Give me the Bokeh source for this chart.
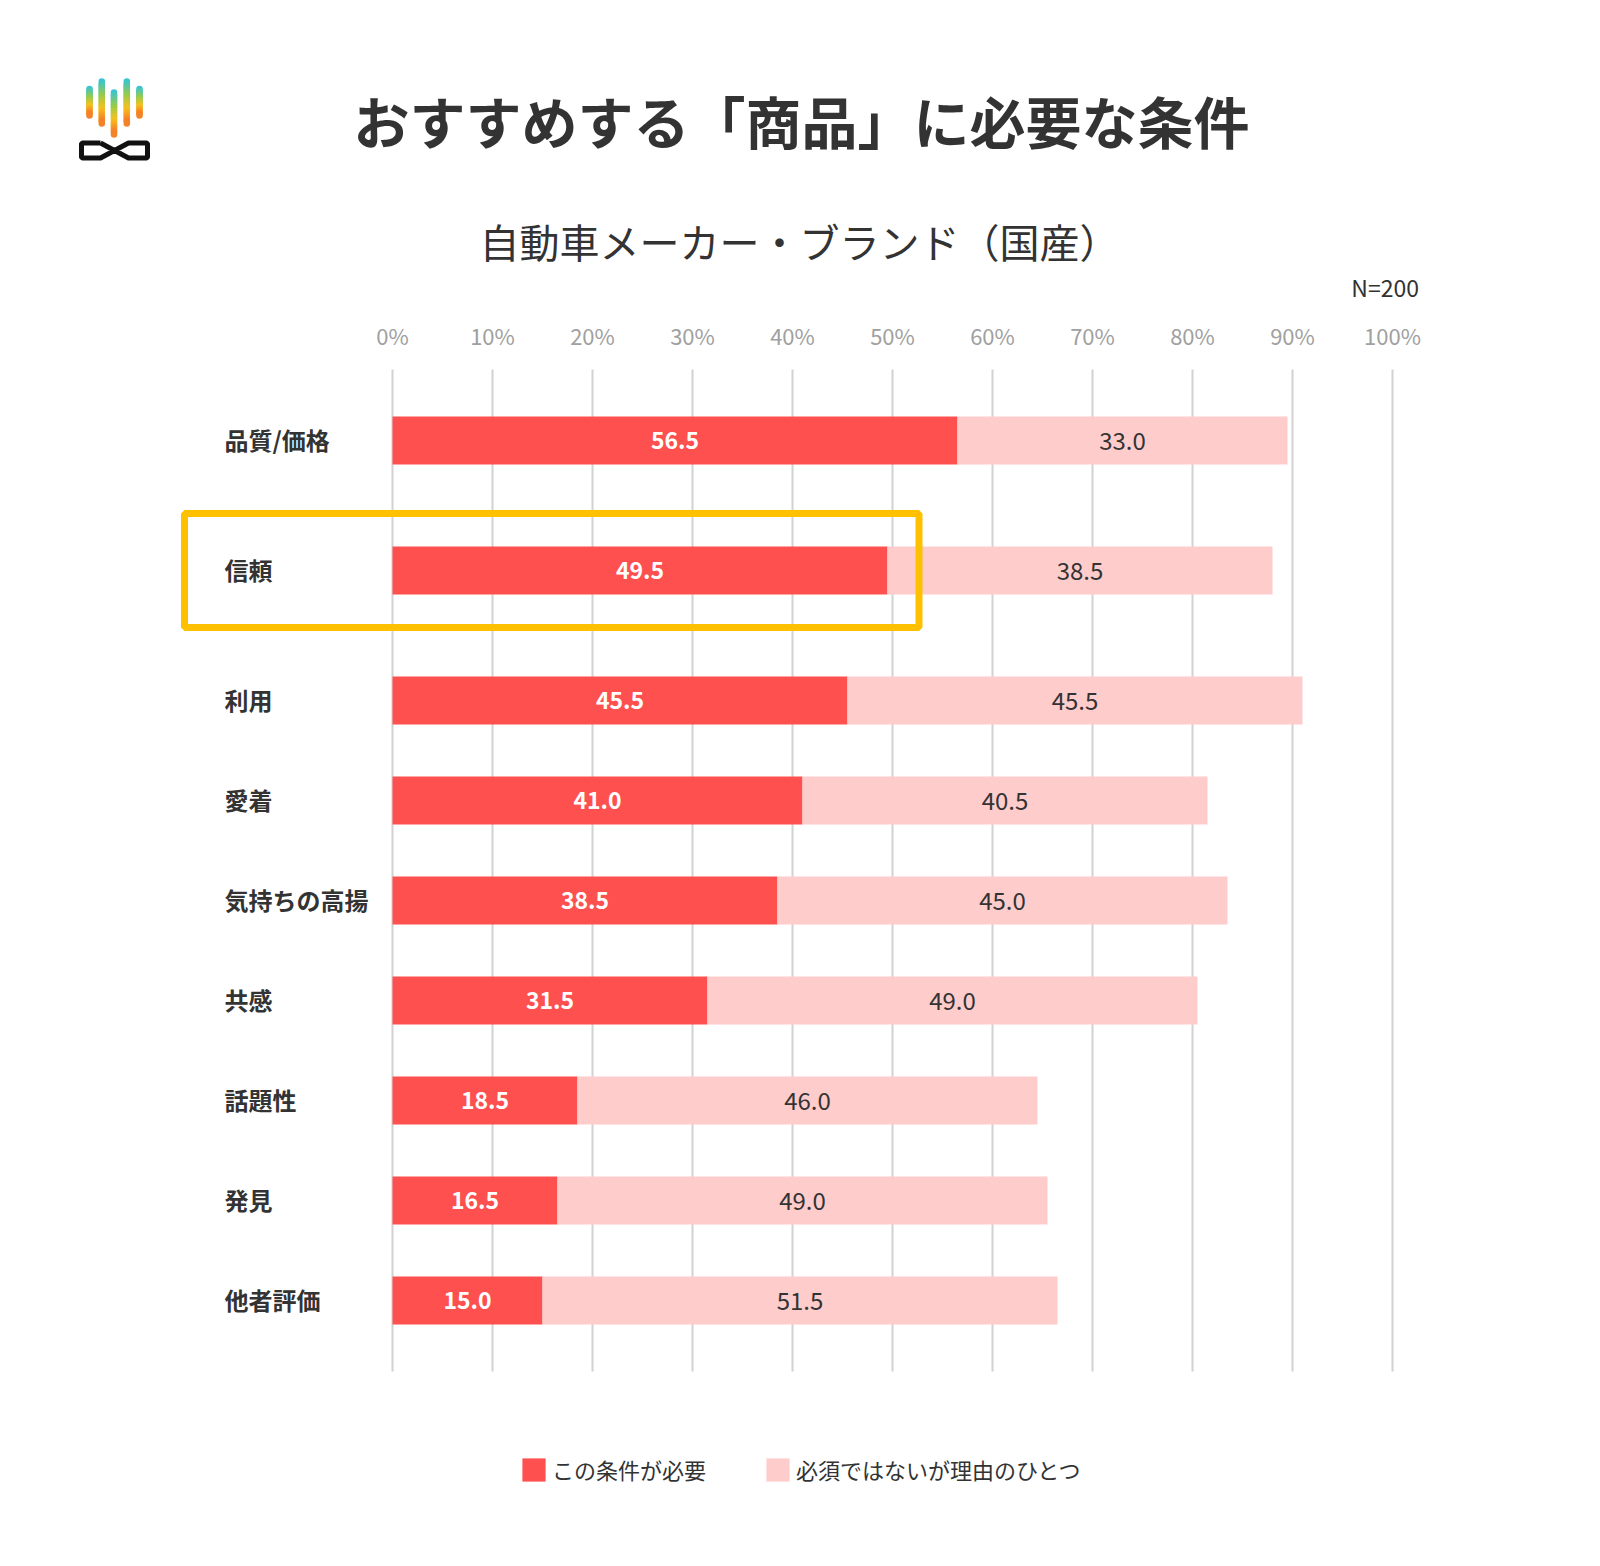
from bokeh.plotting import figure
from bokeh.models import Range1d, ColumnDataSource, Legend, LegendItem
from bokeh.core.properties import value
from bokeh.embed import file_html
from bokeh.resources import INLINE

# ---------------- data ----------------
categories = ["品質/価格", "信頼", "利用", "愛着", "気持ちの高揚", "共感", "話題性", "発見", "他者評価"]
required = [56.5, 49.5, 45.5, 41.0, 38.5, 31.5, 18.5, 16.5, 15.0]
one_reason = [33.0, 38.5, 45.5, 40.5, 45.0, 49.0, 46.0, 49.0, 51.5]
tick_values = [0, 10, 20, 30, 40, 50, 60, 70, 80, 90, 100]
tick_labels = [f"{t}%" for t in tick_values]
series_names = ["この条件が必要", "必須ではないが理由のひとつ"]
title_text = "おすすめする「商品」に必要な条件"
subtitle_text = "自動車メーカー・ブランド（国産）"
n_text = "N=200"
highlight = "信頼"

# ---------------- style ----------------
FONT_NAME = "Noto Sans CJK JP"
FONT = value(FONT_NAME)
RED = "#FF5050"
PINK = "#FFCCCC"
GRID = "#D2D2D2"
GOLD = "#FFC000"
DARK = "#333333"

W, H = 1584, 1550
# screen pixel -> data: x = (px-392)/10, y = (py-440)/100
X0, Y0 = 392.0, 440.0
def dx(px):
    return (px - X0) / 10.0
def dy(py):
    return (py - Y0) / 100.0

p = figure(width=W, height=H, output_backend="svg", toolbar_location=None,
           x_range=Range1d(dx(0), dx(W)), y_range=Range1d(dy(H), dy(0)),
           x_axis_type=None, y_axis_type=None, min_border=0)
p.xgrid.visible = False
p.ygrid.visible = False
p.outline_line_color = None
p.background_fill_color = "white"
p.border_fill_color = "white"

# row positions (extra gap around highlighted row)
hl = categories.index(highlight)
pos = [0.0]
for i in range(1, len(categories)):
    gap = 1.3 if (i == hl or i - 1 == hl) else 1.0
    pos.append(pos[-1] + gap)

# grid lines
g_top = pos[0] - 0.71
g_bot = pos[-1] + 0.71
p.segment(x0=tick_values, x1=tick_values, y0=[g_top] * len(tick_values), y1=[g_bot] * len(tick_values),
          line_color=GRID, line_width=2)
p.text(x=tick_values, y=[g_top - 0.347] * len(tick_values), text=tick_labels, text_font=FONT,
       text_font_size="22px", text_color="#A0A0A0", text_align="center", text_baseline="middle")

# bars
src = ColumnDataSource(dict(
    y=pos, cat=categories, req=required, rea=one_reason,
    tot=[a + b for a, b in zip(required, one_reason)],
    req_mid=[a / 2 for a in required],
    rea_mid=[a + b / 2 for a, b in zip(required, one_reason)],
    req_lab=[f"{a:.1f}" for a in required],
    rea_lab=[f"{b:.1f}" for b in one_reason],
    lab_y=[v - 0.01 for v in pos],
))
r1 = p.hbar(y="y", left=0, right="req", height=0.48, fill_color=RED, line_color=None, source=src)
r2 = p.hbar(y="y", left="req", right="tot", height=0.48, fill_color=PINK, line_color=None, source=src)
p.text(x="req_mid", y="y", text="req_lab", source=src, text_font=FONT, text_font_size="23px",
       text_font_style="bold", text_color="white", text_align="center", text_baseline="middle")
p.text(x="rea_mid", y="y", text="rea_lab", source=src, text_font=FONT, text_font_size="24px",
       text_color=DARK, text_align="center", text_baseline="middle")

# category labels
p.text(x=dx(224), y="lab_y", text="cat", source=src, text_font=FONT, text_font_size="24px",
       text_font_style="bold", text_color=DARK, text_align="left", text_baseline="middle")

# highlight box
p.quad(left=dx(184), right=dx(918.5), top=pos[hl] - 0.57, bottom=pos[hl] + 0.57,
       fill_color=None, line_color=GOLD, line_width=7)

# titles
p.text(x=[dx(801)], y=[dy(118.5)], text=[title_text], text_font=FONT, text_font_size="56px",
       text_font_style="bold", text_color=DARK, text_align="center", text_baseline="middle")
p.text(x=[dx(799)], y=[dy(240.5)], text=[subtitle_text], text_font=FONT, text_font_size="40px",
       text_color=DARK, text_align="center", text_baseline="middle")
p.text(x=[dx(1418.5)], y=[dy(286.3)], text=[n_text], text_font=FONT, text_font_size="23px",
       text_color=DARK, text_align="right", text_baseline="middle")

# legend
legend = Legend(items=[LegendItem(label=series_names[0], renderers=[r1]),
                       LegendItem(label=series_names[1], renderers=[r2])],
                orientation="horizontal", location=(519, H - 1485),
                glyph_width=29, glyph_height=29, label_standoff=4, spacing=57,
                padding=0, margin=0, border_line_color=None, background_fill_alpha=0,
                label_text_font=FONT_NAME, label_text_font_size="22px", label_text_color=DARK,
                label_height=23)
p.add_layout(legend, "center")

# logo (decoration)
def lerp(c1, c2, t):
    a = [int(c1[i:i + 2], 16) for i in (1, 3, 5)]
    b = [int(c2[i:i + 2], 16) for i in (1, 3, 5)]
    return "#%02x%02x%02x" % tuple(round(a[k] + (b[k] - a[k]) * t) for k in range(3))

stops = [(0.0, "#2EC4DC"), (0.4, "#9CCB45"), (0.7, "#F8C020"), (1.0, "#F37A2A")]
def grad(t):
    for (t0, c0), (t1, c1) in zip(stops, stops[1:]):
        if t <= t1:
            return lerp(c0, c1, (t - t0) / (t1 - t0))
    return stops[-1][1]

logo_bars = [(89, 88.5, 115), (101.3, 81, 123), (113.5, 92, 134), (126.3, 81, 123), (139, 88.5, 115)]
xs0, xs1, ys0, ys1, cols = [], [], [], [], []
n = 14
for cx, top, bot in logo_bars:
    for k in range(n):
        t0 = k / n
        t1 = (k + 1) / n
        xs0.append(dx(cx)); xs1.append(dx(cx))
        ys0.append(dy(top + (bot - top) * t0)); ys1.append(dy(top + (bot - top) * t1))
        cols.append(grad((t0 + t1) / 2))
p.segment(x0=xs0, x1=xs1, y0=ys0, y1=ys1, line_color=cols, line_width=6.5, line_cap="round")

inf_x = [100, 82, 81, 81, 82, 100, 128, 146, 147, 147, 146, 128, 100]
inf_y = [142.5, 142.5, 143.5, 156.5, 157.5, 157.5, 142.5, 142.5, 143.5, 156.5, 157.5, 157.5, 142.5]
p.line(x=[dx(v) for v in inf_x], y=[dy(v) for v in inf_y], line_color="#111111", line_width=5,
       line_join="round")

open("out.html", "w").write(file_html(p, INLINE))
